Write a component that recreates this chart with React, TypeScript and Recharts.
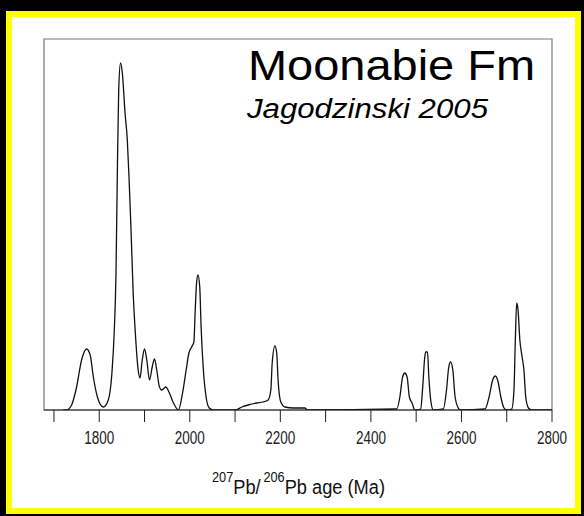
import React from "react";
import { LineChart, Line, XAxis, YAxis, ReferenceArea } from "recharts";

// relative probability curve (Ma vs. arbitrary density)
const ages = [
  1720, 1728, 1739, 1750, 1761, 1772, 1780, 1787, 1796, 1809, 1820, 1828, 1833,
  1837, 1840, 1843, 1847, 1851, 1857, 1862, 1866, 1870, 1875, 1880, 1886, 1890,
  1895, 1900, 1905, 1911, 1917, 1922, 1927, 1933, 1938, 1947, 1955, 1964, 1975,
  1984, 1992, 1998, 2004, 2009, 2012, 2015, 2018, 2022, 2025, 2030, 2036, 2043,
  2052, 2100, 2115, 2129, 2148, 2162, 2173, 2179, 2182, 2188, 2192, 2195, 2201,
  2210, 2229, 2254, 2260, 2457, 2464, 2470, 2475, 2480, 2485, 2491, 2497, 2510,
  2514, 2519, 2521, 2525, 2528, 2533, 2538, 2560, 2567, 2572, 2576, 2581, 2586,
  2593, 2598, 2652, 2661, 2669, 2675, 2681, 2687, 2694, 2700, 2711, 2716, 2719,
  2722, 2725, 2729, 2734, 2738, 2742, 2748, 2755, 2800,
];
const density = [
  0, 0, 5, 23, 50, 61, 55, 33, 13, 3, 10, 37, 77,
  137, 237, 320, 347, 337, 297, 270, 230, 183, 117, 75, 40, 32,
  50, 61, 50, 30, 43, 51, 40, 23, 20, 23, 17, 7, 0,
  17, 40, 57, 63, 68, 100, 127, 135, 123, 83, 40, 13, 2,
  0, 0, 3, 5, 7, 8, 10, 20, 47, 64, 57, 30, 8,
  3, 2, 2, 0, 1, 13, 33, 37, 33, 13, 7, 0, 1,
  20, 53, 58, 58, 33, 7, 0, 1, 20, 43, 48, 40, 13,
  2, 0, 1, 13, 30, 34, 28, 13, 2, 0, 1, 20, 70,
  107, 100, 70, 53, 40, 13, 2, 0, 0,
];
const xTicks = [1700, 1800, 1900, 2000, 2100, 2200, 2300, 2400, 2500, 2600, 2700, 2800];
const labelledTicks = [1800, 2000, 2200, 2400, 2600, 2800];

const rows = ages.map((age, i) => ({ age, density: density[i] }));

const narrow = "'Liberation Sans Narrow', 'Arial Narrow', 'Liberation Sans', Arial, sans-serif";
const sans = "'Liberation Sans', Arial, Helvetica, sans-serif";

function AgeTick(props: any) {
  const { x, y, payload } = props;
  if (!labelledTicks.includes(payload.value)) return null;
  return (
    <text x={x} y={y + 20} textAnchor="middle" fontFamily={narrow} fontSize={18} fill="#222"
      textLength={30} lengthAdjust="spacingAndGlyphs">
      {payload.value}
    </text>
  );
}

export default function App() {
  return (
    <div style={{ position: "fixed", left: 0, top: 0, width: 584, height: 516, background: "#000" }}>
      <div
        style={{
          position: "absolute", left: 6, top: 11, width: 575, height: 503,
          boxSizing: "border-box", border: "6px solid #ffff00", background: "#fff",
        }}
      />
      <div style={{ position: "absolute", left: 0, top: 0 }}>
        <LineChart width={584} height={516} data={rows} margin={{ top: 39, right: 32, bottom: 66, left: 44 }}>
          <XAxis
            dataKey="age"
            type="number"
            domain={[1678, 2800]}
            ticks={xTicks}
            height={40}
            tickSize={12}
            tick={<AgeTick />}
            stroke="#222"
            interval={0}
            allowDataOverflow
          />
          <YAxis hide width={0} type="number" domain={[0, 371]} allowDataOverflow />
          <ReferenceArea x1={1678} x2={2800} y1={0} y2={371} fill="none" stroke="#777" strokeWidth={1.2} />
          <Line
            type="monotone"
            dataKey="density"
            stroke="#111"
            strokeWidth={1.3}
            dot={false}
            isAnimationActive={false}
          />
        </LineChart>
      </div>
      <svg width={584} height={516} style={{ position: "absolute", left: 0, top: 0, pointerEvents: "none" }}>
        <text x={248} y={80} fontFamily={sans} fontSize={43} fill="#000" textLength={287} lengthAdjust="spacingAndGlyphs">
          Moonabie Fm
        </text>
        <text x={247} y={118} fontFamily={sans} fontSize={27} fontStyle="italic" fill="#000"
          textLength={241} lengthAdjust="spacingAndGlyphs">
          Jagodzinski 2005
        </text>
        <text x={212} y={494} fontFamily={narrow} fontSize={20} fill="#111" textLength={173} lengthAdjust="spacingAndGlyphs">
          <tspan fontSize={14} dy={-12}>207</tspan>
          <tspan dy={12}>Pb/</tspan>
          <tspan fontSize={14} dx={3} dy={-12}>206</tspan>
          <tspan dy={12}>Pb age (Ma)</tspan>
        </text>
      </svg>
    </div>
  );
}
